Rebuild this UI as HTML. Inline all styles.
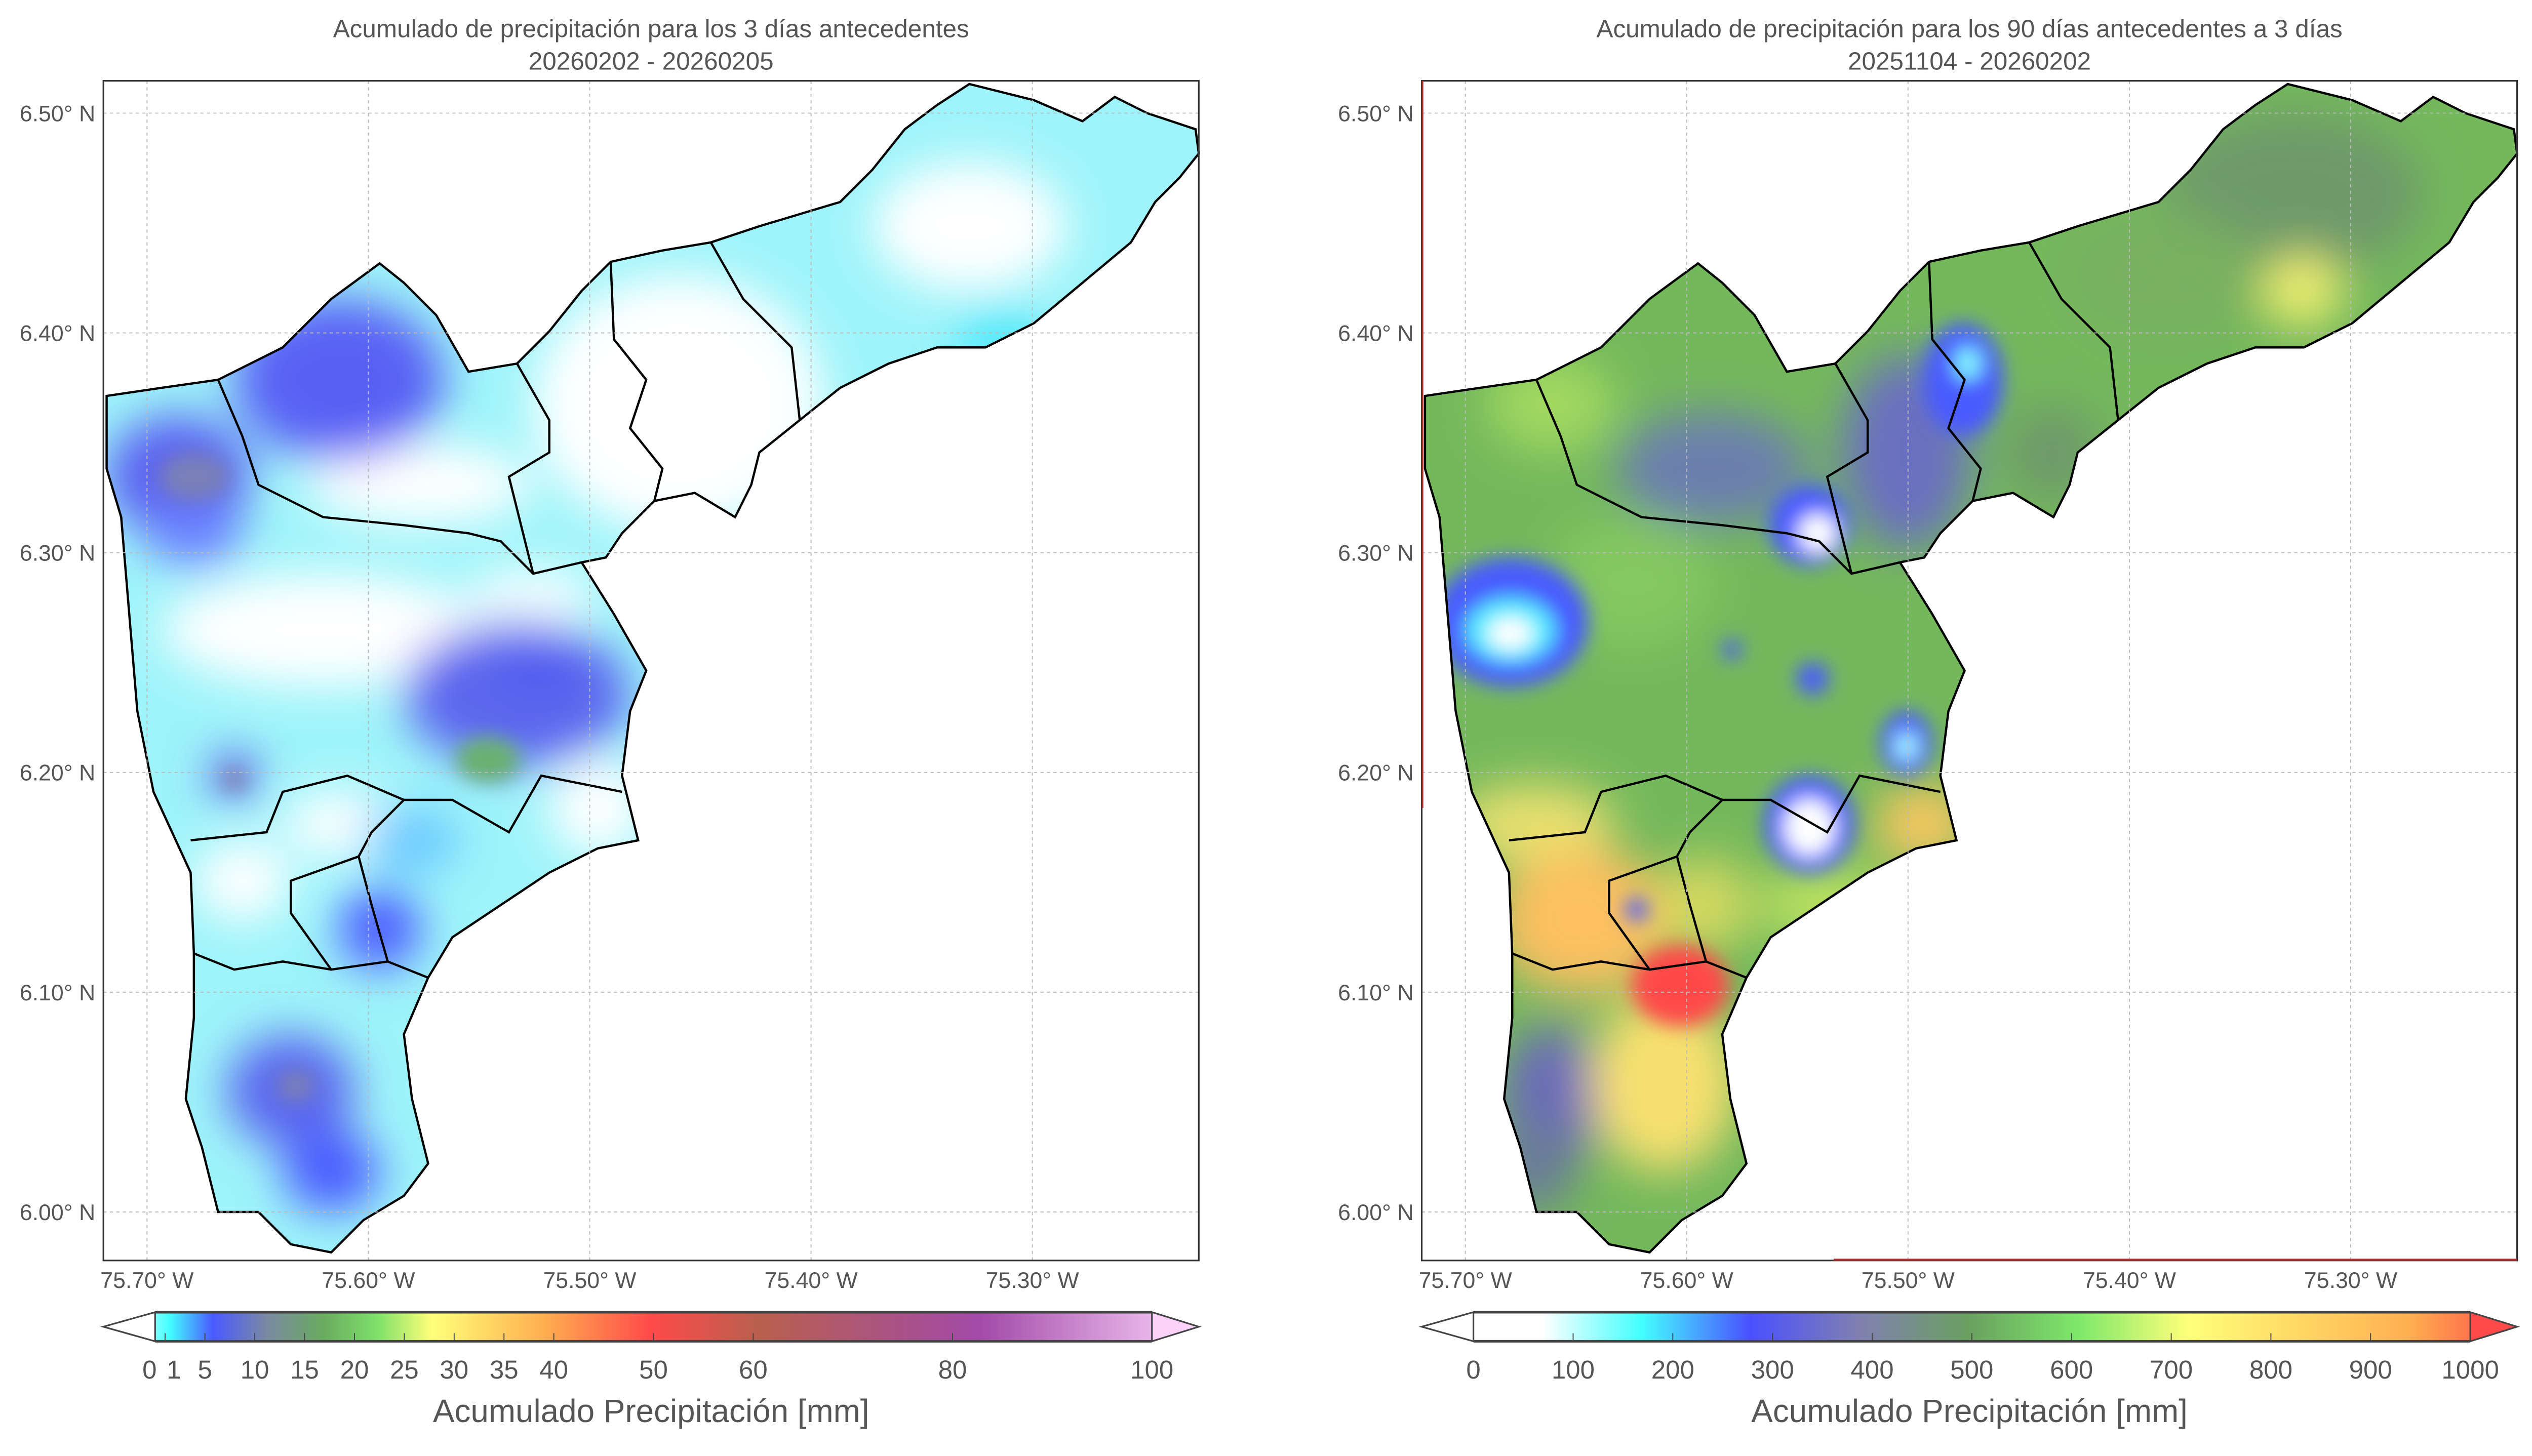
<!DOCTYPE html>
<html><head><meta charset="utf-8"><style>
html,body{margin:0;padding:0;background:#fff}
svg{display:block}
text{font-family:"Liberation Sans",sans-serif;fill:#555}
</style></head><body>
<svg id="fig" width="5044" height="2876" viewBox="0 0 1581 901" preserveAspectRatio="none" xmlns="http://www.w3.org/2000/svg">
<defs>
<clipPath id="clipL"><polygon id="outline" points="66,245 100,240 135,235 175,215 205,185 235,163 250,175 270,195 290,230 320,225 340,205 360,180 378,162 410,155 440,150 470,140 520,125 540,105 560,80 580,65 600,52 640,62 670,75 690,60 710,70 740,80 742,95 730,110 715,125 700,150 670,175 640,200 610,215 580,215 550,225 520,240 495,260 470,280 465,300 455,320 430,305 405,310 385,330 375,345 360,348 380,380 400,415 390,440 385,480 395,520 370,525 340,540 310,560 280,580 265,605 250,640 255,680 265,720 250,740 225,755 205,775 180,770 160,750 135,750 125,710 115,680 120,630 120,590 118,540 95,490 85,440 80,380 75,320 66,290"/></clipPath>
<clipPath id="clipR"><use href="#outline" transform="translate(816,0)"/></clipPath>
<filter id="blur" x="-50%" y="-50%" width="200%" height="200%"><feGaussianBlur stdDeviation="14"/></filter>
<filter id="blur2" x="-50%" y="-50%" width="200%" height="200%"><feGaussianBlur stdDeviation="6"/></filter>
<linearGradient id="cbL" x1="0" x2="1">
<stop offset="0" stop-color="#fff"/><stop offset="0.02" stop-color="#fff"/><stop offset="0.06" stop-color="#4ff"/><stop offset="0.1" stop-color="#4a5aff"/><stop offset="0.15" stop-color="#7a8aa0"/><stop offset="0.2" stop-color="#6aaa60"/><stop offset="0.25" stop-color="#7ee06a"/><stop offset="0.3" stop-color="#ffff7a"/><stop offset="0.4" stop-color="#ffb050"/><stop offset="0.5" stop-color="#ff4a4a"/><stop offset="0.6" stop-color="#b8604e"/><stop offset="0.8" stop-color="#a24aa8"/><stop offset="1" stop-color="#fad2fa"/></linearGradient>
<linearGradient id="cbR" x1="0" x2="1">
<stop offset="0" stop-color="#fff"/><stop offset="0.11" stop-color="#fff"/><stop offset="0.2" stop-color="#4ff"/><stop offset="0.3" stop-color="#4a50ff"/><stop offset="0.4" stop-color="#8080b0"/><stop offset="0.5" stop-color="#6aa060"/><stop offset="0.6" stop-color="#7ee86a"/><stop offset="0.7" stop-color="#ffff7a"/><stop offset="0.9" stop-color="#ffb050"/><stop offset="1" stop-color="#ff4a4a"/></linearGradient>
</defs>

<text x="403" y="23" font-size="15.5" text-anchor="middle">Acumulado de precipitación para los 3 días antecedentes</text>
<text x="403" y="43" font-size="15.5" text-anchor="middle">20260202 - 20260205</text>
<text x="1219" y="23" font-size="15.5" text-anchor="middle">Acumulado de precipitación para los 90 días antecedentes a 3 días</text>
<text x="1219" y="43" font-size="15.5" text-anchor="middle">20251104 - 20260202</text>

<g clip-path="url(#clipL)">
<rect x="60" y="50" width="690" height="740" fill="#9ef4fa"/>
<g filter="url(#blur)">
<ellipse cx="420" cy="250" rx="90" ry="80" fill="#fff"/>
<ellipse cx="600" cy="140" rx="60" ry="40" fill="#fff"/>
<ellipse cx="260" cy="300" rx="70" ry="25" fill="#fff"/>
<ellipse cx="200" cy="390" rx="100" ry="35" fill="#fff"/>
<ellipse cx="330" cy="370" rx="40" ry="20" fill="#f2ffff"/>
<ellipse cx="150" cy="545" rx="30" ry="25" fill="#fff"/>
<ellipse cx="210" cy="510" rx="35" ry="20" fill="#fff"/>
<ellipse cx="370" cy="500" rx="30" ry="30" fill="#fff"/>
<ellipse cx="620" cy="210" rx="30" ry="20" fill="#4ee8fa"/>
<ellipse cx="110" cy="295" rx="45" ry="38" fill="#5a60f0"/>
<ellipse cx="210" cy="235" rx="65" ry="50" fill="#5860f4"/>
<ellipse cx="120" cy="330" rx="30" ry="20" fill="#6a80ff"/>
<ellipse cx="320" cy="430" rx="70" ry="45" fill="#5c66ee"/>
<ellipse cx="335" cy="405" rx="25" ry="18" fill="#5058f0"/>
<ellipse cx="145" cy="480" rx="15" ry="15" fill="#5858e8"/>
<ellipse cx="235" cy="575" rx="25" ry="25" fill="#4a56ff"/>
<ellipse cx="180" cy="675" rx="40" ry="35" fill="#5a66ee"/>
<ellipse cx="205" cy="725" rx="30" ry="25" fill="#4a5aff"/>
<ellipse cx="255" cy="520" rx="30" ry="20" fill="#6ac8ff"/>
</g>
<g filter="url(#blur2)">
<ellipse cx="302" cy="470" rx="20" ry="14" fill="#6ab070"/>
<ellipse cx="120" cy="295" rx="22" ry="15" fill="#7a80b8"/>
<ellipse cx="145" cy="482" rx="7" ry="7" fill="#8080b0"/>
<ellipse cx="183" cy="672" rx="12" ry="10" fill="#7a80b8"/>
</g>
</g>

<g clip-path="url(#clipR)">
<rect x="876" y="50" width="690" height="740" fill="#74b85c"/>
<g filter="url(#blur)">
<ellipse cx="1420" cy="120" rx="80" ry="50" fill="#6e9a6a"/>
<ellipse cx="1340" cy="170" rx="60" ry="40" fill="#78b060"/>
<ellipse cx="1060" cy="290" rx="60" ry="35" fill="#6c7fae"/>
<ellipse cx="1180" cy="280" rx="40" ry="60" fill="#6a70c0"/>
<ellipse cx="1270" cy="280" rx="30" ry="30" fill="#6e9a6a"/>
<ellipse cx="960" cy="250" rx="40" ry="30" fill="#a0d860"/>
<ellipse cx="1010" cy="360" rx="50" ry="40" fill="#84c860"/>
<ellipse cx="960" cy="680" rx="30" ry="45" fill="#6a6aba"/>
<ellipse cx="950" cy="510" rx="50" ry="25" fill="#e8e070"/>
<ellipse cx="980" cy="570" rx="55" ry="45" fill="#fcc060"/>
<ellipse cx="1030" cy="670" rx="45" ry="55" fill="#f8e070"/>
<ellipse cx="1055" cy="560" rx="30" ry="30" fill="#d0d860"/>
<ellipse cx="1190" cy="510" rx="30" ry="25" fill="#f8c860"/>
<ellipse cx="1130" cy="560" rx="40" ry="25" fill="#b8e060"/>
<ellipse cx="1425" cy="180" rx="25" ry="22" fill="#f0f070"/>
<ellipse cx="950" cy="720" rx="25" ry="30" fill="#6a7a9a"/>
</g>
<g filter="url(#blur2)">
<ellipse cx="1040" cy="610" rx="30" ry="25" fill="#ff4848"/>
<ellipse cx="935" cy="385" rx="48" ry="40" fill="#4a5aff"/>
<ellipse cx="935" cy="390" rx="28" ry="20" fill="#5ef"/>
<ellipse cx="935" cy="392" rx="14" ry="10" fill="#fff"/>
<ellipse cx="1120" cy="325" rx="25" ry="25" fill="#4a5aff"/>
<ellipse cx="1125" cy="330" rx="12" ry="12" fill="#fff"/>
<ellipse cx="1215" cy="235" rx="25" ry="35" fill="#4a5aff"/>
<ellipse cx="1218" cy="225" rx="8" ry="10" fill="#8ff"/>
<ellipse cx="1120" cy="510" rx="28" ry="30" fill="#4a5aff"/>
<ellipse cx="1120" cy="512" rx="16" ry="18" fill="#fff"/>
<ellipse cx="1180" cy="460" rx="16" ry="20" fill="#4a5aff"/>
<ellipse cx="1180" cy="462" rx="7" ry="9" fill="#aff"/>
<ellipse cx="1122" cy="420" rx="10" ry="10" fill="#4a5aff"/>
<ellipse cx="1072" cy="402" rx="6" ry="6" fill="#4a5aff"/>
<ellipse cx="1013" cy="563" rx="7" ry="7" fill="#4a5aff"/>
</g>
</g>

<g id="borders" fill="none" stroke="#000" stroke-width="1.4">
<use href="#outline"/>
<polyline points="135,235 150,270 160,300 200,320 250,325 290,330 310,335 330,355 360,348"/>
<polyline points="320,225 340,260 340,280 315,295 330,355"/>
<polyline points="378,162 380,210 400,235 390,265 410,290 405,310"/>
<polyline points="440,150 460,185 490,215 495,260"/>
<polyline points="118,520 165,515 175,490 215,480 250,495 230,515 222,530 180,545 180,565 205,600 240,595 265,605"/>
<polyline points="222,530 230,560 240,595"/>
<polyline points="120,590 145,600 175,595 205,600"/>
<polyline points="250,495 280,495 315,515 335,480 385,490"/>
</g>
<use href="#borders" transform="translate(816,0)"/>

<g id="axesL"></g>
<g id="axesR"></g>
<line x1="880.5" y1="50" x2="880.5" y2="500" stroke="#b03030" stroke-width="1"/>
<line x1="1135" y1="779.5" x2="1558" y2="779.5" stroke="#b03030" stroke-width="1.2"/>

<g id="cbarL"></g>
<g id="cbarR"></g>
</svg>
<script>
const lonTicks=[75.70,75.60,75.50,75.40,75.30];
const latTicks=[6.50,6.40,6.30,6.20,6.10,6.00];
const cbLeftTicks=[0,1,5,10,15,20,25,30,35,40,50,60,80,100];
const cbLeftLabels=["0","1","5","10","15","20","25","30","35","40","50","60","80","100"];
const cbRightTicks=[0,100,200,300,400,500,600,700,800,900,1000];
const NS="http://www.w3.org/2000/svg";
function mk(p,t,a){const e=document.createElementNS(NS,t);for(const k in a)e.setAttribute(k,a[k]);p.appendChild(e);return e;}
function lonX(v,x0){return x0+27+(75.70-v)*1370;}
function latY(v){return 70+(6.50-v)*1360;}
function axes(g,x0){
  const x1=x0+678;
  lonTicks.forEach(v=>{const x=lonX(v,x0);
    const l=mk(g,'line',{x1:x,y1:50,x2:x,y2:780,stroke:'#bbb','stroke-width':0.6,'stroke-dasharray':'2,2'});
    
    
    const t=mk(g,'text',{x:x,y:797,'font-size':14,'text-anchor':'middle'});t.textContent=v.toFixed(2)+'° W';
    
    });
  latTicks.forEach(v=>{const y=latY(v);
    const l=mk(g,'line',{x1:x0,y1:y,x2:x1,y2:y,stroke:'#bbb','stroke-width':0.6,'stroke-dasharray':'2,2'});
    
    
    const t=mk(g,'text',{x:x0-5,y:y+5,'font-size':14,'text-anchor':'end'});t.textContent=v.toFixed(2)+'° N';
    
    });
  const f=mk(g,'rect',{x:x0,y:50,width:678,height:730,fill:'none',stroke:'#333','stroke-width':1});
  
  
}
axes(document.getElementById('axesL'),64);
axes(document.getElementById('axesR'),880);
function cbar(g,x0,grad,max,ticks,labels){
  const a=x0+32,b=x0+649,y0=812,y1=830;
  const sx=v=>a+(v/max)*(b-a);
  const p=mk(g,'polygon',{points:`${x0},821 ${a},${y0} ${b},${y0} ${x0+678},821 ${b},${y1} ${a},${y1}`,fill:`url(#${grad})`,stroke:'#444','stroke-width':1});
  
  
  mk(g,'polygon',{points:`${x0},821 ${a},${y0} ${a},${y1}`,fill:'#fff',stroke:'#444','stroke-width':1});
  const endFill=grad==='cbL'?'#fad2fa':'#ff4a4a';
  mk(g,'polygon',{points:`${b},${y0} ${x0+678},821 ${b},${y1}`,fill:endFill,stroke:'#444','stroke-width':1});
  mk(g,'line',{x1:a,y1:y0,x2:b,y2:y0,stroke:'#444','stroke-width':1.6});
  mk(g,'line',{x1:a,y1:y1,x2:b,y2:y1,stroke:'#444','stroke-width':1.6});
  ticks.forEach((v,i)=>{const x=sx(v);
    mk(g,'line',{x1:x,y1:825,x2:x,y2:830,stroke:'#444','stroke-width':0.6});
    let tx=x; if(grad==='cbL'&&v===0)tx=x+1; if(grad==='cbL'&&v===1)tx=x+1;
    const t=mk(g,'text',{x:tx,y:853,'font-size':16,'text-anchor':(grad==='cbL'&&v===0)?'end':(grad==='cbL'&&v===1)?'start':'middle'});
    t.textContent=labels[i];
    
    });
  const t=mk(g,'text',{x:x0+339,y:880,'font-size':20,'text-anchor':'middle'});
  t.textContent='Acumulado Precipitación [mm]';
  
  
}
cbar(document.getElementById('cbarL'),64,'cbL',100,cbLeftTicks,cbLeftLabels);
cbar(document.getElementById('cbarR'),880,'cbR',1000,cbRightTicks,cbRightTicks.map(String));
</script>
</body></html>
